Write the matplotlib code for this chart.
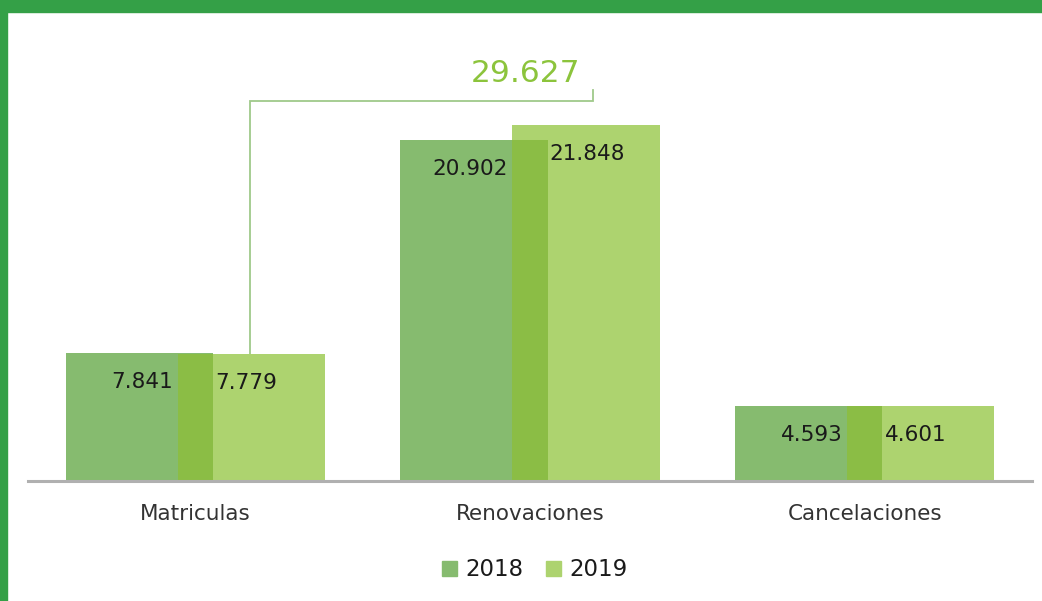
import matplotlib
matplotlib.use("Agg")
import matplotlib.pyplot as plt
import numpy as np
from matplotlib.patches import Rectangle

categories = ["Matriculas", "Renovaciones", "Cancelaciones"]
series_names = ["2018", "2019"]
values_2018 = [7841, 20902, 4593]
values_2019 = [7779, 21848, 4601]
labels_2018 = ["7.841", "20.902", "4.593"]
labels_2019 = ["7.779", "21.848", "4.601"]
total_label = "29.627"

c18 = "#86bb6f"
c19 = "#add36f"
c_ov = "#8bbd45"
border = "#34a047"
txt_green = "#8cc43c"

W, H = 1042, 601
fig = plt.figure(figsize=(W / 100, H / 100), dpi=100)
fig.patch.set_facecolor("white")

ax = fig.add_axes([28 / W, 120 / H, 1004 / W, 481 / H])
ax.set_xlim(-0.5, 2.5)
ax.set_ylim(0, 29490)
ax.axis("off")

x = np.arange(len(categories))
bw = 0.44
off = 0.167
v18 = np.array(values_2018)
v19 = np.array(values_2019)
ax.bar(x - off, v18, width=bw, color=c18, zorder=2)
ax.bar(x + off, v19, width=bw, color=c19, zorder=2)
ov_w = bw - 2 * off
ax.bar(x, np.minimum(v18, v19), width=ov_w, color=c_ov, zorder=3)

# baseline
ax.axhline(0, color="#b0b0b0", lw=2.2, zorder=4, clip_on=False)

fs_val = 15.5
for i in range(len(categories)):
    ax.annotate(labels_2018[i], xy=(x[i] - ov_w / 2, v18[i]), xytext=(-3, -21),
                textcoords="offset points", ha="right", va="center",
                fontsize=fs_val, color="#1a1a1a", zorder=5)
    ax.annotate(labels_2019[i], xy=(x[i] + ov_w / 2, v19[i]), xytext=(1.5, -21),
                textcoords="offset points", ha="left", va="center",
                fontsize=fs_val, color="#1a1a1a", zorder=5)
    ax.text(x[i], -2000, categories[i], ha="center", va="center",
            fontsize=15.5, color="#333333")

# bracket connecting Matriculas 2019 and Renovaciones 2019
xl = 0 + off - 0.004
xr = 1 + off + 0.022
yb = 23300
ax.plot([xl, xl, xr, xr], [v19[0], yb, yb, 24000], color="#9fc98a", lw=1.3, zorder=1,
        solid_joinstyle="miter")
ax.text(0.987, 25000, total_label, ha="center", va="center", fontsize=22.5,
        color=txt_green)

# legend
handles = [Rectangle((0, 0), 1, 1, color=c18), Rectangle((0, 0), 1, 1, color=c19)]
fig.legend(handles, series_names, loc="center", bbox_to_anchor=(535 / W, 1 - 570 / H),
           ncol=2, frameon=False, fontsize=16.5, handlelength=0.65, handleheight=0.65,
           handletextpad=0.35, columnspacing=1.0, labelcolor="#1a1a1a")

# green frame
fig.patches.append(Rectangle((0, 1 - 12 / H), 1, 12 / H, transform=fig.transFigure,
                             color=border, zorder=10))
fig.patches.append(Rectangle((0, 0), 7 / W, 1, transform=fig.transFigure,
                             color=border, zorder=10))

fig.savefig("out.png", dpi=100)
